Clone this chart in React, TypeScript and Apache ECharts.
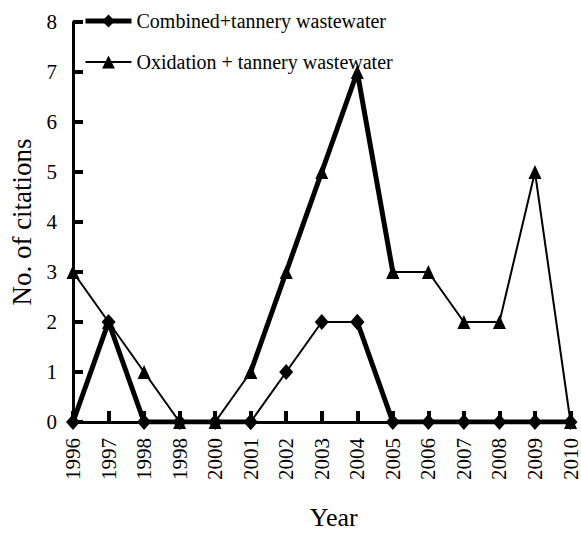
import React, { useEffect, useRef } from "react";
import * as echarts from "echarts";

const years = ["1996", "1997", "1998", "1998", "2000", "2001", "2002", "2003", "2004", "2005", "2006", "2007", "2008", "2009", "2010"];
const combined = [0, 2, 0, 0, 0, 0, 1, 2, 2, 0, 0, 0, 0, 0, 0];
const oxidation = [3, 2, 1, 0, 0, 1, 3, 5, 7, 3, 3, 2, 2, 5, 0];
const yTicks = [0, 1, 2, 3, 4, 5, 6, 7, 8];

const NAME_C = "Combined+tannery wastewater";
const NAME_O = "Oxidation + tannery wastewater";
const FONT = "'Liberation Serif', 'Times New Roman', serif";

// keep values only within the given index ranges, null elsewhere
function seg(values: number[], ranges: [number, number][]) {
  return values.map((v, i) => (ranges.some(([a, b]) => i >= a && i <= b) ? v : null));
}

export default function App() {
  const ref = useRef<HTMLDivElement>(null);
  useEffect(() => {
    if (!ref.current) return;
    const chart = echarts.init(ref.current, null, { renderer: "svg" });
    const diamond = { symbol: "diamond", symbolSize: [14, 16] };
    const tri = { symbol: "triangle", symbolSize: [13, 14] };
    const thick = { color: "#000", width: 5 };
    const thin = { color: "#000", width: 2 };
    chart.setOption({
      animation: false,
      backgroundColor: "#fff",
      grid: { left: 73, right: 6, top: 22, bottom: 104 },
      legend: {
        orient: "vertical",
        left: 78,
        top: 6,
        itemWidth: 46,
        itemHeight: 16,
        itemGap: 21,
        data: [
          { name: NAME_C, lineStyle: { width: 5, color: "#000" } },
          { name: NAME_O, lineStyle: { width: 2, color: "#000" } },
        ],
        textStyle: { fontFamily: FONT, fontSize: 20, color: "#000" },
        selectedMode: false,
      },
      xAxis: {
        type: "category",
        data: years,
        boundaryGap: false,
        name: "Year",
        nameLocation: "middle",
        nameGap: 82,
        nameTextStyle: { fontFamily: FONT, fontSize: 26, color: "#000", padding: [0, 0, 0, 24] },
        axisLine: { show: true, lineStyle: { color: "#000", width: 3 } },
        axisTick: { show: true, inside: true, length: 11, lineStyle: { color: "#000", width: 4 } },
        axisLabel: { rotate: 90, interval: 0, margin: 16, fontFamily: FONT, fontSize: 21, color: "#000", padding: [0, 0, 8, 0] },
        splitLine: { show: false },
      },
      yAxis: {
        type: "value",
        min: yTicks[0],
        max: yTicks[yTicks.length - 1],
        interval: 1,
        name: "No. of citations",
        nameLocation: "middle",
        nameGap: 36,
        nameTextStyle: { fontFamily: FONT, fontSize: 27, color: "#000" },
        axisLine: { show: true, lineStyle: { color: "#000", width: 3 } },
        axisTick: { show: true, inside: true, length: 10, lineStyle: { color: "#000", width: 4 } },
        axisLabel: { margin: 16, fontFamily: FONT, fontSize: 21, color: "#000" },
        splitLine: { show: false },
      },
      series: [
        { name: NAME_O, type: "line", data: seg(oxidation, [[0, 5], [9, 14]]), ...tri, showAllSymbol: true, lineStyle: thin, itemStyle: { color: "#000" }, z: 2 },
        { name: "o-thick", type: "line", data: seg(oxidation, [[5, 9]]), ...tri, showAllSymbol: true, lineStyle: thick, itemStyle: { color: "#000" }, z: 3 },
        { name: NAME_C, type: "line", data: seg(combined, [[0, 5], [8, 14]]), ...diamond, showAllSymbol: true, lineStyle: thick, itemStyle: { color: "#000" }, z: 4 },
        { name: "c-thin", type: "line", data: seg(combined, [[5, 8]]), ...diamond, showAllSymbol: true, lineStyle: thin, itemStyle: { color: "#000" }, z: 4 },
      ],
    });
    return () => chart.dispose();
  }, []);
  return <div ref={ref} style={{ position: "fixed", left: 0, top: 0, width: 581, height: 535 }} />;
}
